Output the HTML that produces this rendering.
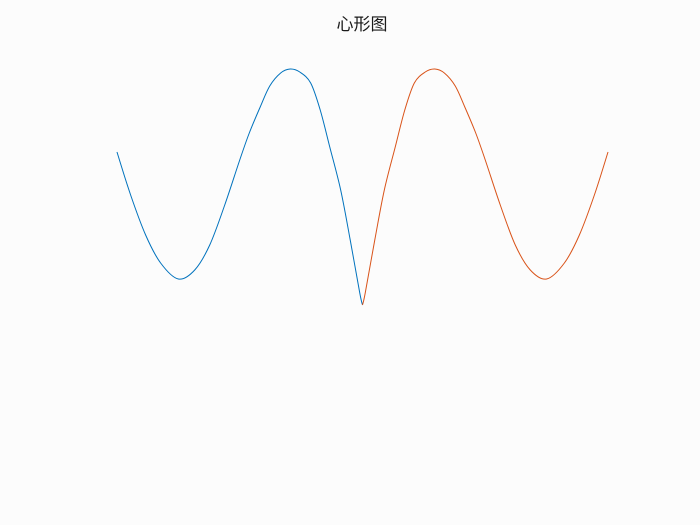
<!DOCTYPE html>
<html><head><meta charset="utf-8">
<style>
html,body{margin:0;padding:0;background:#fcfcfc;}
svg{display:block;}
</style></head>
<body>
<svg id="chart" width="700" height="525" viewBox="0 0 700 525">
<rect width="700" height="525" fill="#fcfcfc"/>
<text x="362" y="30" text-anchor="middle" font-size="17" fill="#1a1a1a" font-family="'Liberation Sans','Noto Sans CJK SC',sans-serif">心形图</text>
</svg>
<script>
const leftX = [-1.80,-1.70,-1.59,-1.48,-1.35,-1.23,-1.12,-1.01,-0.90,-0.83,-0.75,-0.68,-0.60,-0.53,-0.46,-0.38,-0.31,-0.24,-0.16,-0.09,-0.02,0];
const leftY = [1.53,1.10,0.70,0.42,0.26,0.35,0.60,1.00,1.45,1.72,1.98,2.19,2.32,2.36,2.33,2.22,1.95,1.58,1.15,0.65,0.12,0];
const rightX = [1.80,1.70,1.59,1.48,1.35,1.23,1.12,1.01,0.90,0.83,0.75,0.68,0.60,0.53,0.46,0.38,0.31,0.24,0.16,0.09,0.02,0];
const rightY = [1.53,1.10,0.70,0.42,0.26,0.35,0.60,1.00,1.45,1.72,1.98,2.19,2.32,2.36,2.33,2.22,1.95,1.58,1.15,0.65,0.12,0];

function sx(v){return 362.5 + v*136.4;}
function sy(v){return 305 - v*100;}
function pathFor(xs, ys){
  const p = xs.map((x,i)=>[sx(x), sy(ys[i])]);
  let d = 'M'+p[0][0]+','+p[0][1];
  for(let i=0;i<p.length-1;i++){
    const p0=p[Math.max(0,i-1)], p1=p[i], p2=p[i+1], p3=p[Math.min(p.length-1,i+2)];
    const c1x=p1[0]+(p2[0]-p0[0])/6, c1y=p1[1]+(p2[1]-p0[1])/6;
    const c2x=p2[0]-(p3[0]-p1[0])/6, c2y=p2[1]-(p3[1]-p1[1])/6;
    d+=' C'+c1x+','+c1y+' '+c2x+','+c2y+' '+p2[0]+','+p2[1];
  }
  return d;
}
const svg = document.getElementById('chart');
const NS = 'http://www.w3.org/2000/svg';
const l = document.createElementNS(NS,'path');
l.setAttribute('d', pathFor(leftX,leftY));
l.setAttribute('fill','none'); l.setAttribute('stroke','#0072BD'); l.setAttribute('stroke-width','1');


svg.appendChild(l);
const r = document.createElementNS(NS,'path');
r.setAttribute('d', pathFor(rightX,rightY));
r.setAttribute('fill','none'); r.setAttribute('stroke','#D95319'); r.setAttribute('stroke-width','1');


svg.appendChild(r);
</script>
</body></html>
